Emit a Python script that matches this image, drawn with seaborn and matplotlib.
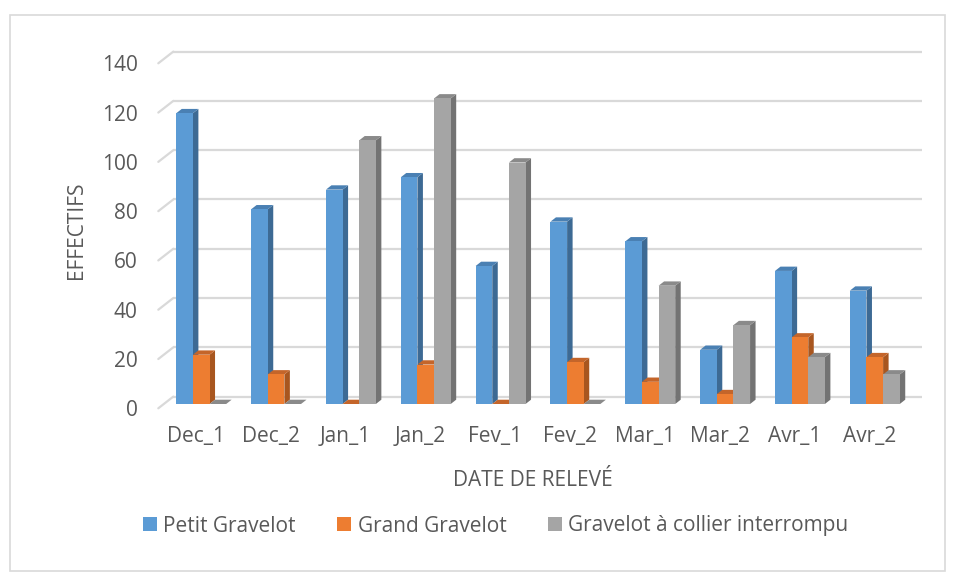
import matplotlib
matplotlib.use("Agg")
import matplotlib.pyplot as plt
from matplotlib.patches import Polygon, Patch, Rectangle
import seaborn as sns
import pandas as pd

# ---- data ----
dates = ["Dec_1", "Dec_2", "Jan_1", "Jan_2", "Fev_1", "Fev_2",
         "Mar_1", "Mar_2", "Avr_1", "Avr_2"]
petit_gravelot = [118, 79, 87, 92, 56, 74, 66, 22, 54, 46]
grand_gravelot = [20, 12, 0, 16, 0, 17, 9, 4, 27, 19]
gravelot_collier = [0, 0, 107, 124, 98, 0, 48, 32, 19, 12]
species = ["Petit Gravelot", "Grand Gravelot", "Gravelot à collier interrompu"]
y_ticks = [0, 20, 40, 60, 80, 100, 120, 140]

front_colors = ["#5B9BD5", "#ED7D31", "#A5A5A5"]
side_colors = ["#3D6A94", "#A8561F", "#737373"]
top_colors = ["#4A80B3", "#C4652A", "#8A8A8A"]
text_color = "#595959"
grid_color = "#D9D9D9"

df = pd.DataFrame({
    "date": dates * 3,
    "effectif": petit_gravelot + grand_gravelot + gravelot_collier,
    "espece": [s for s in species for _ in dates],
})

W, H, DPI = 956, 581, 100
sns.set_theme(style="white")
plt.rcParams["font.family"] = ["Open Sans", "DejaVu Sans"]

fig = plt.figure(figsize=(W / DPI, H / DPI), dpi=DPI)

# chart-area frame
fig.patches.append(Rectangle((10 / W, 1 - 571 / H), 935 / W, 556 / H,
                             transform=fig.transFigure, fill=False,
                             edgecolor=grid_color, linewidth=1.2))

# front plane of the floor, in pixels
x0, x1 = 158.3, 906.7
yb, yt = 408.3, 63.3
ax = fig.add_axes([x0 / W, 1 - yb / H, (x1 - x0) / W, (yb - yt) / H])
ax.set_xlim(-0.5, len(dates) - 0.5)
ax.set_ylim(0, 140)

sns.barplot(data=df, x="date", y="effectif", hue="espece", order=dates,
            hue_order=species, palette=front_colors, saturation=1,
            width=0.667, gap=0, legend=False, ax=ax, errorbar=None,
            linewidth=0)
ax.set_xlim(-0.5, len(dates) - 0.5)
ax.set_ylim(0, 140)

# pixel scale of the data axes
px_x = ax.transData.transform((1, 0))[0] - ax.transData.transform((0, 0))[0]
px_y = ax.transData.transform((0, 1))[1] - ax.transData.transform((0, 0))[1]

full_dx, full_dy = 15.0, 11.7       # depth of the floor (px)
bar_dx, bar_dy = 5.5, 4.3           # depth of one column (px)
front_dx, front_dy = 5.5, 4.3       # columns sit this far behind the front edge

ddx, ddy = bar_dx / px_x, bar_dy / px_y
fdx, fdy = front_dx / px_x, front_dy / px_y
gdx, gdy = full_dx / px_x, full_dy / px_y

# back wall gridlines and the slanted ticks on the left side
for v in y_ticks:
    ax.plot([-0.5 + gdx, len(dates) - 0.5 + gdx], [v + gdy, v + gdy],
            color=grid_color, lw=1.6, zorder=0.5, clip_on=False,
            solid_capstyle="butt")
    ax.plot([-0.5, -0.5 + gdx], [v, v + gdy], color=grid_color, lw=1.6,
            zorder=0.5, clip_on=False)

# give each column its top and side faces
bars = list(ax.patches)
n = len(dates)
for i, bar in enumerate(bars):
    k = i // n
    bx = bar.get_x() + fdx
    bw = bar.get_width()
    bh = bar.get_height()
    by = fdy
    z = 2 + k * 0.1 + (i % n)
    bar.remove()
    front = Polygon([(bx, by), (bx + bw, by), (bx + bw, by + bh), (bx, by + bh)],
                    closed=True, facecolor=front_colors[k], edgecolor="none",
                    zorder=z + 0.03, clip_on=False)
    top = Polygon([(bx, by + bh), (bx + bw, by + bh),
                   (bx + bw + ddx, by + bh + ddy), (bx + ddx, by + bh + ddy)],
                  closed=True, facecolor=top_colors[k], edgecolor="none",
                  zorder=z + 0.02, clip_on=False)
    side = Polygon([(bx + bw, by), (bx + bw + ddx, by + ddy),
                    (bx + bw + ddx, by + bh + ddy), (bx + bw, by + bh)],
                   closed=True, facecolor=side_colors[k], edgecolor="none",
                   zorder=z + 0.01, clip_on=False)
    for p in (side, top, front):
        ax.add_patch(p)

ax.set_xlim(-0.5, len(dates) - 0.5)
ax.set_ylim(0, 140)
for s in ax.spines.values():
    s.set_visible(False)
ax.grid(False)
ax.set_yticks(y_ticks)
ax.set_yticklabels([str(v) for v in y_ticks])
ax.tick_params(axis="both", length=0, labelsize=15, colors=text_color)
ax.tick_params(axis="y", pad=15)
ax.tick_params(axis="x", pad=13)
ax.set_xlabel("")
ax.set_ylabel("")

fig.text(76 / W, 1 - 230 / H, "EFFECTIFS", rotation=90, ha="center",
         va="center", fontsize=15, color=text_color)
fig.text(532.5 / W, 1 - 480 / H, "DATE DE RELEVÉ", ha="center",
         va="center", fontsize=15, color=text_color)

handles = [Patch(facecolor=c, edgecolor="none") for c in front_colors]
fig.legend(handles, species, loc="center", ncol=3, frameon=False,
           bbox_to_anchor=(495.5 / W, 1 - 526 / H), fontsize=15,
           handlelength=0.68, handleheight=0.68, handletextpad=0.3,
           columnspacing=2.0, labelcolor=text_color)

fig.savefig("out.png", dpi=DPI, facecolor="white")
